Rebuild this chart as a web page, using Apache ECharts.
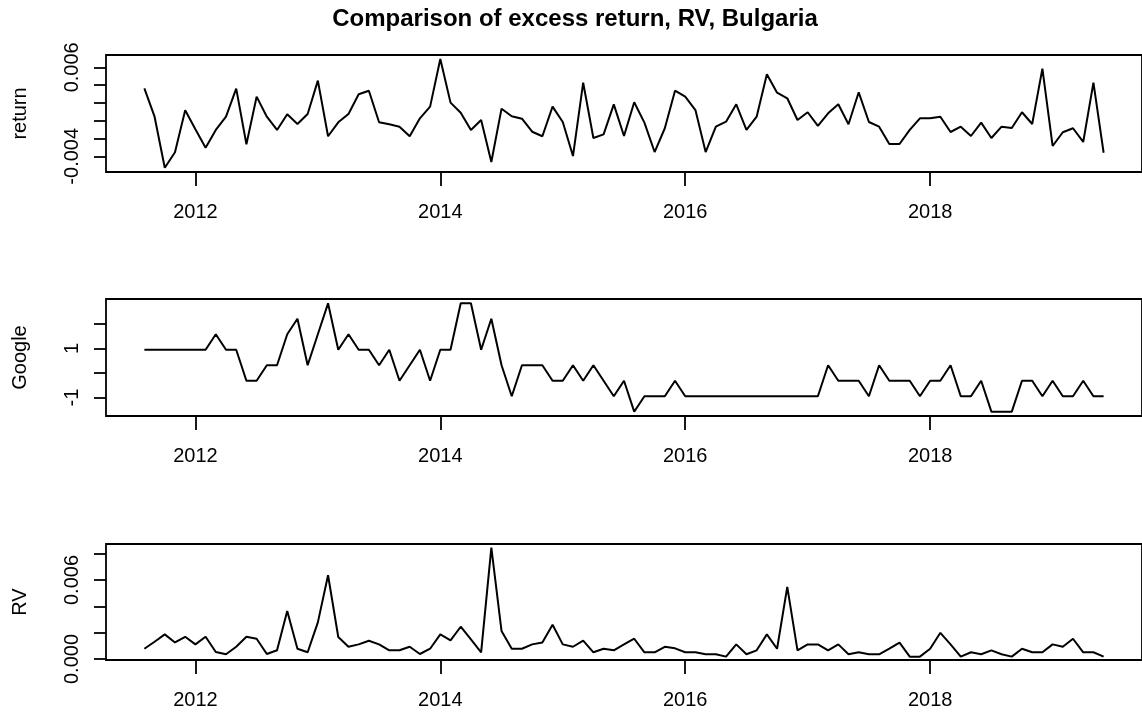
<!DOCTYPE html>
<html>
<head>
<meta charset="utf-8">
<script src="https://cdn.jsdelivr.net/npm/echarts@6/dist/echarts.min.js"></script>
<style>
html,body{margin:0;padding:0;background:#fff;}
#chart{width:1142px;height:716px;}
</style>
</head>
<body>
<div id="chart"></div>
<script>
// Monthly series, Aug 2011 .. Jun 2019
var startYear = 2011, startMonth = 8;
var xTickYears = [2012, 2014, 2016, 2018];
var panelNames = ['return', 'Google', 'RV'];

var returnValues = [0.00364, 0.00045, -0.00528, -0.00355, 0.00117, -0.00097, -0.00303, -0.00104, 0.00045, 0.00360,
 -0.00265, 0.00270, 0.00045, -0.00104, 0.00072, -0.00037, 0.00075, 0.00450, -0.00175, -0.00018,
 0.00075, 0.00297, 0.00337, -0.00018, -0.00040, -0.00067, -0.00175, 0.00027, 0.00158, 0.00694,
 0.00203, 0.00090, -0.00104, 0.00008, -0.00464, 0.00135, 0.00050, 0.00023, -0.00124, -0.00175,
 0.00158, -0.00015, -0.00397, 0.00427, -0.00194, -0.00153, 0.00184, -0.00172, 0.00207, -0.00022,
 -0.00352, -0.00085, 0.00337, 0.00270, 0.00120, -0.00352, -0.00067, -0.00011, 0.00184, -0.00104,
 0.00045, 0.00522, 0.00315, 0.00252, 0.00008, 0.00095, -0.00059, 0.00083, 0.00184, -0.00040,
 0.00319, -0.00015, -0.00067, -0.00262, -0.00262, -0.00104, 0.00027, 0.00027, 0.00045, -0.00127,
 -0.00067, -0.00172, -0.00022, -0.00194, -0.00067, -0.00082, 0.00095, -0.00037, 0.00585, -0.00284,
 -0.00130, -0.00085, -0.00239, 0.00427, -0.00360];

var googleValues = [0.945, 0.945, 0.945, 0.945, 0.945, 0.945, 0.945, 1.575, 0.945, 0.945,
 -0.315, -0.315, 0.315, 0.315, 1.575, 2.205, 0.315, 1.575, 2.835, 0.945,
 1.575, 0.945, 0.945, 0.315, 0.945, -0.315, 0.315, 0.945, -0.315, 0.945,
 0.945, 2.835, 2.835, 0.945, 2.205, 0.315, -0.945, 0.315, 0.315, 0.315,
 -0.315, -0.315, 0.315, -0.315, 0.315, -0.315, -0.945, -0.315, -1.575, -0.945,
 -0.945, -0.945, -0.315, -0.945, -0.945, -0.945, -0.945, -0.945, -0.945, -0.945,
 -0.945, -0.945, -0.945, -0.945, -0.945, -0.945, -0.945, 0.315, -0.315, -0.315,
 -0.315, -0.945, 0.315, -0.315, -0.315, -0.315, -0.945, -0.315, -0.315, 0.315,
 -0.945, -0.945, -0.315, -1.575, -1.575, -1.575, -0.315, -0.315, -0.945, -0.315,
 -0.945, -0.945, -0.315, -0.945, -0.945];

var rvValues = [0.00078, 0.00131, 0.00187, 0.00126, 0.00169, 0.00111, 0.00169, 0.00053, 0.00036, 0.00093,
 0.00169, 0.00154, 0.00038, 0.00066, 0.00364, 0.00078, 0.00051, 0.00278, 0.00636, 0.00167,
 0.00093, 0.00111, 0.00139, 0.00111, 0.00066, 0.00066, 0.00093, 0.00038, 0.00078, 0.00187,
 0.00142, 0.00245, 0.00149, 0.00051, 0.00846, 0.00212, 0.00078, 0.00078, 0.00111, 0.00126,
 0.00260, 0.00111, 0.00093, 0.00139, 0.00051, 0.00078, 0.00066, 0.00111, 0.00154, 0.00051,
 0.00051, 0.00093, 0.00081, 0.00051, 0.00051, 0.00036, 0.00036, 0.00018, 0.00111, 0.00036,
 0.00066, 0.00187, 0.00078, 0.00548, 0.00066, 0.00111, 0.00111, 0.00066, 0.00111, 0.00036,
 0.00051, 0.00036, 0.00036, 0.00078, 0.00124, 0.00018, 0.00018, 0.00078, 0.00199, 0.00111,
 0.00018, 0.00051, 0.00036, 0.00066, 0.00036, 0.00018, 0.00078, 0.00051, 0.00051, 0.00111,
 0.00093, 0.00154, 0.00051, 0.00051, 0.00018];

var returnTicks = [-0.004, -0.002, 0, 0.002, 0.004, 0.006];
var returnLabels = [-0.004, 0.006];
var googleTicks = [-1, 0, 1, 2];
var googleLabels = [-1, 1];
var rvTicks = [0, 0.002, 0.004, 0.006, 0.008];
var rvLabels = [0, 0.006];

function toPairs(vals) {
  return vals.map(function (v, i) {
    return [startYear + (startMonth - 1 + i) / 12, v];
  });
}

var FONT = "'Liberation Sans', Arial, Helvetica, sans-serif";
var panels = [
  {name: panelNames[0], data: returnValues, ticks: returnTicks, labels: returnLabels,
   min: -0.005764, max: 0.007382, fmt: function (v) { return v.toFixed(3); }, top: 55, height: 117},
  {name: panelNames[1], data: googleValues, ticks: googleTicks, labels: googleLabels,
   min: -1.751, max: 3.011, fmt: function (v) { return String(Math.round(v)); }, top: 299, height: 117},
  {name: panelNames[2], data: rvValues, ticks: rvTicks, labels: rvLabels,
   min: -0.0000758, max: 0.008735, fmt: function (v) { return v.toFixed(3); }, top: 544, height: 116}
];

var option = {
  animation: false,
  backgroundColor: '#ffffff',
  graphic: [{
    type: 'text', x: 575, y: 19,
    style: {text: 'Comparison of excess return, RV, Bulgaria', fill: '#000',
            font: 'bold 24px ' + FONT, textAlign: 'center', textVerticalAlign: 'middle'}
  }],
  grid: [], xAxis: [], yAxis: [], series: []
};

panels.forEach(function (p, k) {
  option.grid.push({left: 106, width: 1042, top: p.top, height: p.height, show: true,
    borderColor: '#000', borderWidth: 1.8, backgroundColor: 'transparent', containLabel: false});
  option.xAxis.push({
    type: 'value', gridIndex: k, min: 2011.270, max: 2019.730, position: 'bottom',
    axisLine: {show: false, onZero: false}, splitLine: {show: false},
    axisTick: {show: true, inside: false, length: 14, customValues: xTickYears,
               lineStyle: {color: '#000', width: 1.8}},
    axisLabel: {show: true, customValues: xTickYears, margin: 30, color: '#000',
                fontSize: 20, fontFamily: FONT, formatter: function (v) { return String(v); }}
  });
  option.yAxis.push({
    type: 'value', gridIndex: k, min: p.min, max: p.max, position: 'left',
    name: p.name, nameLocation: 'middle', nameRotate: 90, nameGap: 76,
    nameTextStyle: {color: '#000', fontSize: 20, fontFamily: FONT},
    axisLine: {show: false, onZero: false}, splitLine: {show: false},
    axisTick: {show: true, inside: false, length: 12, customValues: p.ticks,
               lineStyle: {color: '#000', width: 1.8}},
    axisLabel: {show: true, customValues: p.labels, rotate: 90, margin: 24, color: '#000',
                fontSize: 20, fontFamily: FONT, formatter: p.fmt}
  });
  option.series.push({
    type: 'line', xAxisIndex: k, yAxisIndex: k, data: toPairs(p.data),
    showSymbol: false, symbol: 'none', silent: true,
    lineStyle: {color: '#000', width: 2}
  });
});

var chart = echarts.init(document.getElementById('chart'), null, {renderer: 'canvas'});
chart.setOption(option);
</script>
</body>
</html>
